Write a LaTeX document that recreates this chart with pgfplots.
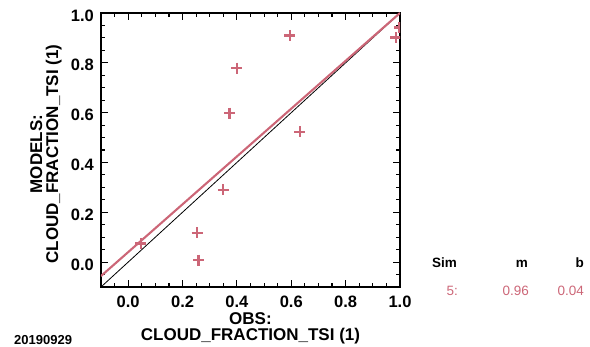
\documentclass[border=0pt]{standalone}
\usepackage{pgfplots}
\pgfplotsset{compat=1.18}
\usepackage{fontspec}
\setmainfont{Liberation Sans}
\definecolor{simc}{RGB}{204,102,119}
\begin{document}
\begin{tikzpicture}[x=1pt,y=1pt]
\path[use as bounding box] (0,0) rectangle (590,347);
\begin{axis}[
  at={(101pt,60pt)}, anchor=south west,
  scale only axis, width=299pt, height=274pt,
  xmin=-0.1, xmax=1.0, ymin=-0.1, ymax=1.0,
  xtick={0,0.2,0.4,0.6,0.8,1.0}, ytick={0,0.2,0.4,0.6,0.8,1.0},
  minor xtick={-0.05,0.05,0.1,0.15,0.25,0.3,0.35,0.45,0.5,0.55,0.65,0.7,0.75,0.85,0.9,0.95},
  minor ytick={-0.05,0.05,0.1,0.15,0.25,0.3,0.35,0.45,0.5,0.55,0.65,0.7,0.75,0.85,0.9,0.95},
  xticklabels={0.0,0.2,0.4,0.6,0.8,1.0},
  yticklabels={0.0,0.2,0.4,0.6,0.8,1.0},
  tick align=inside, major tick length=7pt, minor tick length=4pt,
  every tick/.style={black, line width=1.1pt},
  axis line style={line width=1.5pt},
  tick label style={font=\fontsize{16.5}{16.5}\selectfont\bfseries},
  xticklabel style={anchor=center, yshift=-15pt, inner sep=0pt},
  yticklabel style={anchor=east, xshift=-7pt, yshift=-2.5pt, inner sep=0pt},
  xlabel={OBS:\\CLOUD\_FRACTION\_TSI (1)},
  ylabel={MODELS:\\CLOUD\_FRACTION\_TSI (1)},
  label style={font=\fontsize{17}{16}\selectfont\bfseries, align=center, inner sep=0pt},
  xlabel style={at={(axis description cs:0.5,0)}, anchor=center, yshift=-41pt},
  ylabel style={at={(axis description cs:0,0.5)}, anchor=center, yshift=55pt, xshift=-4pt},
  clip marker paths=true,
]
\addplot[black, line width=0.8pt] coordinates {(-0.1,-0.1) (1.0,1.0)};
\addplot[simc, line width=2.1pt] coordinates {(-0.1,-0.056) (1.0,1.0)};
\addplot[only marks, mark=+, mark size=5.5pt, mark options={line width=2.2pt, simc}] coordinates {
(0.046,0.075) (0.254,0.118) (0.259,0.008) (0.350,0.290) (0.373,0.598)
(0.400,0.779) (0.595,0.910) (0.632,0.523) (0.985,0.902) (0.998,0.942)
};
\end{axis}
\node[anchor=base west, inner sep=0pt, font=\fontsize{13}{13}\selectfont\bfseries] at (14,2) {20190929};
\begin{scope}[every node/.style={anchor=base east, inner sep=0pt, font=\fontsize{13.5}{13.5}\selectfont}]
\node[font=\fontsize{13.5}{13.5}\selectfont\bfseries] at (457,79) {Sim};
\node[font=\fontsize{13.5}{13.5}\selectfont\bfseries] at (528,79) {m};
\node[font=\fontsize{13.5}{13.5}\selectfont\bfseries] at (584,79) {b};
\node[text=simc] at (458,51) {5:};
\node[text=simc] at (529,51) {0.96};
\node[text=simc] at (584,51) {0.04};
\end{scope}
\end{tikzpicture}
\end{document}
